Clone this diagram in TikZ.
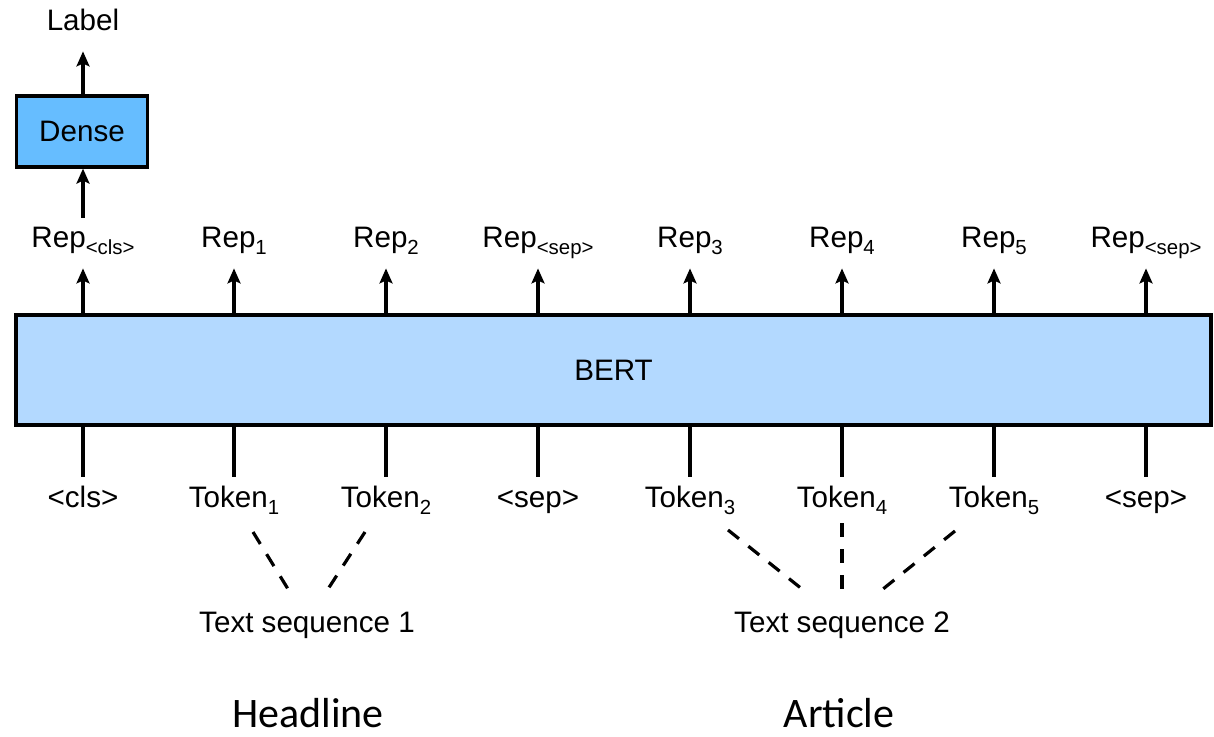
\documentclass[tikz,border=0pt]{standalone}
\usepackage{fontspec}
\setmainfont{Liberation Sans}
\newfontfamily\calib{Carlito}
\usetikzlibrary{arrows.meta}
\definecolor{denseblue}{RGB}{102,189,255}
\definecolor{bertblue}{RGB}{179,217,255}
\newcommand\mysub[1]{\raisebox{-3.5pt}{\fontsize{10.2}{12}\selectfont #1}}
\tikzset{
  lab/.style={font=\fontsize{14.8}{17}\selectfont, text height=10pt, text depth=5pt,
    inner ysep=5pt, inner xsep=0pt, anchor=base},
  boxed/.style={draw=black, line width=1.6pt, inner sep=0pt},
  arr/.style={line width=1.6pt, -{Stealth[length=7.5pt,width=6.5pt,inset=1.5pt]}},
  ln/.style={line width=1.6pt},
  dsh/.style={line width=1.6pt, dash pattern=on 7pt off 6pt},
  big/.style={font=\calib\fontsize{21}{24}\selectfont, inner sep=0pt, anchor=base}
}
\begin{document}
\begin{tikzpicture}[x=0.5pt,y=-0.5pt]
\useasboundingbox (0,0) rectangle (1214,737);
\node[boxed, fill=bertblue, minimum width=597.5pt, minimum height=55pt,
  font=\fontsize{14.8}{17}\selectfont] (bert) at (613.5,370) {BERT};
\node[boxed, fill=denseblue, minimum width=65.5pt, minimum height=35.5pt,
  font=\fontsize{14.8}{17}\selectfont] (dense) at (82,131.5) {Dense};
\node[lab] (label) at (83,31) {Label};
% reps
\node[lab] (r1) at (83,248) {Rep\mysub{<cls>}};
\node[lab] (r2) at (234,248) {Rep\mysub{1}};
\node[lab] (r3) at (386,248) {Rep\mysub{2}};
\node[lab] (r4) at (538,248) {Rep\mysub{<sep>}};
\node[lab] (r5) at (690,248) {Rep\mysub{3}};
\node[lab] (r6) at (842,248) {Rep\mysub{4}};
\node[lab] (r7) at (994,248) {Rep\mysub{5}};
\node[lab] (r8) at (1146,248) {Rep\mysub{<sep>}};
% tokens
\node[lab] (t1) at (83,507) {<cls>};
\node[lab] (t2) at (234,507) {Token\mysub{1}};
\node[lab] (t3) at (386,507) {Token\mysub{2}};
\node[lab] (t4) at (538,507) {<sep>};
\node[lab] (t5) at (690,507) {Token\mysub{3}};
\node[lab] (t6) at (842,507) {Token\mysub{4}};
\node[lab] (t7) at (994,507) {Token\mysub{5}};
\node[lab] (t8) at (1146,507) {<sep>};
\node[lab] (s1) at (307,632) {Text sequence 1};
\node[lab] (s2) at (842,632) {Text sequence 2};
\node[big] (h) at (308,727) {Headline};
\node[big] (a) at (839,727) {Article};
% arrows
\foreach \i in {1,...,8}{
  \draw[arr] (bert.north -| r\i) -- (r\i.south);
  \draw[ln] (bert.south -| t\i) -- (t\i.north);
}
\draw[arr] (r1.north) -- (dense.south -| r1);
\draw[arr] (dense.north -| label) -- (label.south);
% dashed
\coordinate (d1a) at (253,532); \coordinate (d1b) at (288,589);
\coordinate (d2a) at (365,532); \coordinate (d2b) at (328,589);
\coordinate (d3a) at (728,530); \coordinate (d3b) at (802,589);
\coordinate (d4a) at (842,523); \coordinate (d4b) at (842,590);
\coordinate (d5a) at (955,531); \coordinate (d5b) at (883,589);
\draw[dsh] (d1a) -- (d1b);
\draw[dsh] (d2a) -- (d2b);
\draw[dsh] (d3a) -- (d3b);
\draw[dsh] (d4a) -- (d4b);
\draw[dsh] (d5a) -- (d5b);
\end{tikzpicture}
\end{document}
